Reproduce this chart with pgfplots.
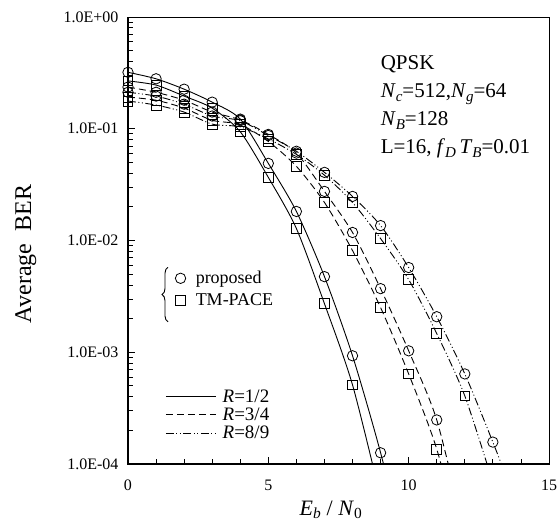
\documentclass[border=0pt]{standalone}
\usepackage{fontspec}
\setmainfont{Liberation Serif}
\usepackage{pgfplots}
\pgfplotsset{compat=1.18}
\usetikzlibrary{decorations.pathreplacing}

% italic letter with italic subscript
\newcommand{\vsub}[2]{\textit{#1}\raisebox{-0.22em}{\fontsize{15}{15}\selectfont\textit{#2}}}

\pgfplotsset{
  ber/.style={black, line width=0.9pt, smooth, tension=0.45,
    mark options={solid, fill=white, line width=0.8pt}},
  circ/.style={mark=o, mark size=5.2pt},
  sq/.style={mark=square, mark size=4.9pt},
  r12/.style={solid},
  r34/.style={dash pattern=on 7pt off 4pt},
  r89/.style={dash pattern=on 8pt off 2.5pt on 1pt off 2.5pt on 1pt off 2.5pt},
}

\begin{document}
\begin{tikzpicture}
\path[use as bounding box] (-128pt,-60pt) rectangle (432pt,464pt);

\begin{axis}[
  at={(0,0)}, anchor=south west,
  scale only axis, width=421pt, height=447pt,
  ymode=log, xmin=0, xmax=15, ymin=1e-4, ymax=1,
  xtick={0,5,10,15}, xticklabels={0,5,10,15},
  minor x tick num=4,
  ytick={1e-4,1e-3,1e-2,1e-1,1},
  yticklabels={1.0E-04,1.0E-03,1.0E-02,1.0E-01,1.0E+00},
  tick align=inside, xtick pos=left, ytick pos=left,
  major tick length=7pt, minor tick length=5pt,
  every tick/.style={black, line width=0.8pt},
  axis line style={line width=0.8pt},
  ticklabel style={font=\fontsize{16}{16}\selectfont},
  xticklabel style={yshift=-12pt},
  yticklabel style={xshift=-6pt},
  xlabel={\textit{E}\textsubscript{\textit{b}} / \textit{N}\textsubscript{0}},
  xlabel style={font=\fontsize{22}{22}\selectfont, at={(axis description cs:0.482,-0.103)}, anchor=center},
  ylabel={Average\ \ BER},
  ylabel style={font=\fontsize{24}{24}\selectfont, at={(axis description cs:-0.243,0.47)}, anchor=center},
  legend style={at={(axis description cs:0.112,0.436)}, anchor=north west,
    draw=none, fill=none, font=\fontsize{18}{20}\selectfont, row sep=4pt,
    column sep=8pt, inner sep=0pt},
  legend cell align=left,
  after end axis/.code={
    \draw[line width=1.8pt] (rel axis cs:0,1) -- (rel axis cs:0,0) -- (rel axis cs:1,0);
    \draw[line width=0.9pt, decorate, decoration={brace, amplitude=6pt}]
      (axis description cs:0.095,0.318) -- (axis description cs:0.095,0.44);
    \node[anchor=north west, align=left, inner sep=0pt,
      font=\fontsize{21}{28}\selectfont] at (axis description cs:0.6,0.915)
      {QPSK\\ \vsub{N}{c}=512,\vsub{N}{g}=64\\ \vsub{N}{B}=128\\ L=16, \vsub{f}{D}\,\vsub{T}{B}=0.01};
  },
]
\addlegendimage{only marks, mark=o, mark size=5.2pt, mark options={line width=0.8pt}}
\addlegendentry{proposed}
\addlegendimage{only marks, mark=square, mark size=4.9pt, mark options={line width=0.8pt}}
\addlegendentry{TM-PACE}

% R=1/2
\addplot[ber, r12, circ, forget plot] coordinates {
 (0,0.32) (1,0.28) (2,0.226) (3,0.173) (4,0.122) (5,0.049) (6,0.0182)
 (7,0.00475) (8,0.00093) (9,0.000126) (10,1.2e-5)};
\addplot[ber, r12, sq, forget plot] coordinates {
 (0,0.268) (1,0.246) (2,0.196) (3,0.153) (4,0.094) (5,0.0367) (6,0.0128)
 (7,0.00272) (8,0.00051) (9,5e-5)};
% R=3/4
\addplot[ber, r34, circ, forget plot] coordinates {
 (0,0.236) (1,0.212) (2,0.18) (3,0.141) (4,0.12) (5,0.089) (6,0.0606)
 (7,0.0275) (8,0.0118) (9,0.00371) (10,0.00103) (11,0.000248) (12,2.4e-5)};
\addplot[ber, r34, sq, forget plot] coordinates {
 (0,0.192) (1,0.18) (2,0.153) (3,0.119) (4,0.109) (5,0.077) (6,0.0461)
 (7,0.0219) (8,0.00813) (9,0.00251) (10,0.00064) (11,0.000136) (12,1.5e-5)};
% R=8/9
\addplot[ber, r89, circ, forget plot] coordinates {
 (0,0.212) (1,0.196) (2,0.166) (3,0.130) (4,0.118) (5,0.087) (6,0.0629)
 (7,0.0407) (8,0.0248) (9,0.0136) (10,0.00573) (11,0.00208) (12,0.00064)
 (13,0.000157) (14,3.5e-5)};
\addplot[ber, r89, sq, forget plot] coordinates {
 (0,0.177) (1,0.163) (2,0.141) (3,0.110) (4,0.104) (5,0.081) (6,0.059)
 (7,0.0384) (8,0.0219) (9,0.0104) (10,0.00447) (11,0.00147) (12,0.000407)
 (13,6.8e-5)};
\end{axis}

% line-style legend
\begin{axis}[
  at={(0,0)}, anchor=south west,
  scale only axis, width=421pt, height=447pt,
  hide axis, xmin=0, xmax=1, ymin=0, ymax=1,
  legend style={at={(axis description cs:0.088,0.171)}, anchor=north west,
    draw=none, fill=none, font=\fontsize{19}{20}\selectfont, row sep=0pt,
    column sep=4pt, inner sep=0pt},
  legend cell align=left,
  legend image code/.code={\draw[#1] (0pt,0pt) -- (50pt,0pt);},
]
\addlegendimage{black, line width=1.4pt, r12}
\addlegendentry{\textit{R}=1/2}
\addlegendimage{black, line width=0.9pt, r34}
\addlegendentry{\textit{R}=3/4}
\addlegendimage{black, line width=0.9pt, r89}
\addlegendentry{\textit{R}=8/9}
\end{axis}
\end{tikzpicture}
\end{document}
